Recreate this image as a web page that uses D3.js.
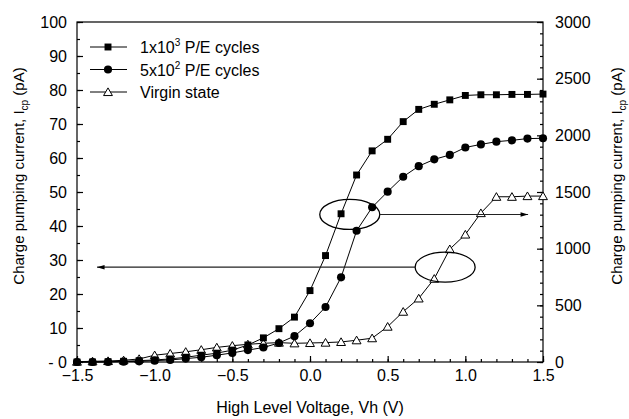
<!DOCTYPE html>
<html>
<head>
<meta charset="utf-8">
<script src="https://cdn.jsdelivr.net/npm/d3@7"></script>
<style>
  html, body { margin: 0; padding: 0; background: #fff; }
  svg { display: block; font-family: "Liberation Sans", Arial, sans-serif; }
  .axis path, .axis line { stroke: #000; stroke-width: 1.2; }
  .axis text { font-size: 16px; fill: #000; }
</style>
</head>
<body>
<svg id="chart" width="629" height="419"></svg>
<script>
// High level voltage sweep (V)
const vh = [-1.5, -1.4, -1.3, -1.2, -1.1, -1.0, -0.9, -0.8, -0.7, -0.6, -0.5,
  -0.4, -0.3, -0.2, -0.1, 0.0, 0.1, 0.2, 0.3, 0.4, 0.5,
  0.6, 0.7, 0.8, 0.9, 1.0, 1.1, 1.2, 1.3, 1.4, 1.5];

// Icp (pA) after 1x10^3 P/E cycles -- right axis
const cycles1e3 = [0, 0, 3, 6, 12, 18, 27, 42, 60, 78, 105,
  150, 213, 294, 396, 630, 939, 1308, 1650, 1863, 1965,
  2121, 2229, 2274, 2313, 2352, 2358, 2358, 2361, 2361, 2364];

// Icp (pA) after 5x10^2 P/E cycles -- right axis
const cycles5e2 = [0, 0, 0, 3, 6, 12, 18, 30, 42, 60, 80,
  105, 128, 168, 228, 342, 485, 747, 1158, 1365, 1503,
  1635, 1728, 1788, 1827, 1893, 1920, 1944, 1956, 1971, 1974];

// Icp (pA) virgin state -- left axis
const virgin = [0.1, 0.2, 0.3, 0.5, 0.9, 2.0, 2.5, 3.0, 3.6, 4.3, 4.8,
  5.2, 5.5, 5.7, 5.5, 5.6, 5.7, 5.9, 6.4, 7.0, 10.4,
  14.8, 18.7, 24.5, 33.2, 37.5, 43.8, 48.6, 48.6, 48.8, 48.8];

const xMajorTicks = [-1.5, -1.0, -0.5, 0.0, 0.5, 1.0, 1.5];
const leftTicks = [0, 10, 20, 30, 40, 50, 60, 70, 80, 90, 100];
const rightTicks = [0, 500, 1000, 1500, 2000, 2500, 3000];

// Annotation ellipses: [vh, left-axis value], arrow target vh
const ellipseCycled = [0.256, 43.4];
const arrowCycledTo = 1.404;
const ellipseVirgin = [0.870, 27.9];
const arrowVirginTo = -1.371;

(() => {
  const svg = d3.select('#chart');

  const x = d3.scaleLinear().domain([-1.5, 1.5]).range([77, 543]);
  const yL = d3.scaleLinear().domain([0, 100]).range([362, 22]);
  const yR = d3.scaleLinear().domain([0, 3000]).range([362, 22]);

  // Frame
  svg.append('rect')
    .attr('x', x(-1.5)).attr('y', yL(100))
    .attr('width', x(1.5) - x(-1.5)).attr('height', yL(0) - yL(100))
    .attr('fill', 'none').attr('stroke', '#000').attr('stroke-width', 1.2);

  // Minor ticks
  const minorX = d3.range(-15, 16).map(d => d / 10);
  svg.append('g').attr('class', 'axis')
    .attr('transform', `translate(0,${yL(0)})`)
    .call(d3.axisBottom(x).tickValues(minorX).tickSizeInner(-3).tickSizeOuter(0).tickFormat(''));
  svg.append('g').attr('class', 'axis')
    .attr('transform', `translate(${x(-1.5)},0)`)
    .call(d3.axisLeft(yL).tickValues(d3.range(0, 101, 5)).tickSizeInner(-3).tickSizeOuter(0).tickFormat(''));
  svg.append('g').attr('class', 'axis')
    .attr('transform', `translate(${x(1.5)},0)`)
    .call(d3.axisRight(yR).tickValues(d3.range(0, 3001, 100)).tickSizeInner(-3).tickSizeOuter(0).tickFormat(''));

  // Major ticks + labels
  svg.append('g').attr('class', 'axis')
    .attr('transform', `translate(0,${yL(0)})`)
    .call(d3.axisBottom(x).tickValues(xMajorTicks).tickSizeInner(-6).tickSizeOuter(0)
      .tickPadding(8).tickFormat(d3.format('.1f')));
  svg.append('g').attr('class', 'axis')
    .attr('transform', `translate(${x(-1.5)},0)`)
    .call(d3.axisLeft(yL).tickValues(leftTicks).tickSizeInner(-6).tickSizeOuter(0)
      .tickPadding(10).tickFormat(d => d === 0 ? '- 0' : d));
  svg.append('g').attr('class', 'axis')
    .attr('transform', `translate(${x(1.5)},0)`)
    .call(d3.axisRight(yR).tickValues(rightTicks).tickSizeInner(-6).tickSizeOuter(0)
      .tickPadding(12).tickFormat(d3.format('d')));
  svg.selectAll('.axis .domain').remove();

  // Axis titles
  svg.append('text')
    .attr('x', (x(-1.5) + x(1.5)) / 2).attr('y', 413)
    .attr('text-anchor', 'middle').attr('font-size', 16)
    .text('High Level Voltage, Vh (V)');

  function yTitle(cx, cy) {
    const t = svg.append('text')
      .attr('transform', `translate(${cx},${cy}) rotate(-90)`)
      .attr('text-anchor', 'middle').attr('font-size', 15);
    t.append('tspan').text('Charge pumping current, I');
    t.append('tspan').attr('font-size', 10).attr('dy', 4).text('cp');
    t.append('tspan').attr('dy', -4).text(' (pA)');
  }
  yTitle(24, 176);
  yTitle(622, 176);

  // Series
  const series = [
    { values: virgin, y: yL, shape: 'triangle' },
    { values: cycles5e2, y: yR, shape: 'circle' },
    { values: cycles1e3, y: yR, shape: 'square' }
  ];

  const symbols = {
    square: d3.symbol(d3.symbolSquare, 48),
    circle: d3.symbol(d3.symbolCircle, 52),
    triangle: d3.symbol(d3.symbolTriangle, 34)
  };

  function drawMarker(sel, shape) {
    sel.attr('d', symbols[shape]())
      .attr('fill', shape === 'triangle' ? '#fff' : '#000')
      .attr('stroke', '#000')
      .attr('stroke-width', shape === 'triangle' ? 1 : 0);
  }

  series.forEach(s => {
    const pts = vh.map((v, i) => [x(v), s.y(s.values[i])]);
    svg.append('path')
      .attr('d', d3.line()(pts))
      .attr('fill', 'none').attr('stroke', '#000').attr('stroke-width', 1);
    svg.append('g').selectAll('path')
      .data(pts)
      .join('path')
      .attr('transform', d => `translate(${d[0]},${d[1] + (s.shape === 'triangle' ? 1 : 0)})`)
      .call(drawMarker, s.shape);
  });

  // Annotations
  const defs = svg.append('defs');
  defs.append('marker')
    .attr('id', 'arr')
    .attr('viewBox', '0 -4 10 8')
    .attr('refX', 10).attr('refY', 0)
    .attr('markerWidth', 9).attr('markerHeight', 6)
    .attr('markerUnits', 'userSpaceOnUse')
    .attr('orient', 'auto')
    .append('path').attr('d', 'M0,-3L10,0L0,3Z').attr('fill', '#000');

  function callout(center, toX) {
    const cx = x(center[0]);
    const cy = yL(center[1]);
    const rx = 30, ry = 15;
    svg.append('ellipse')
      .attr('cx', cx).attr('cy', cy).attr('rx', rx).attr('ry', ry)
      .attr('fill', 'none').attr('stroke', '#000').attr('stroke-width', 1.3);
    const startX = toX > center[0] ? cx + rx : cx - rx;
    svg.append('line')
      .attr('x1', startX).attr('y1', cy).attr('x2', x(toX)).attr('y2', cy)
      .attr('stroke', '#222').attr('stroke-width', 1.1)
      .attr('marker-end', 'url(#arr)');
  }
  callout(ellipseCycled, arrowCycledTo);
  callout(ellipseVirgin, arrowVirginTo);

  // Legend
  const legend = [
    { shape: 'square', base: '1x10', sup: '3', rest: ' P/E cycles' },
    { shape: 'circle', base: '5x10', sup: '2', rest: ' P/E cycles' },
    { shape: 'triangle', base: 'Virgin state', sup: '', rest: '' }
  ];
  const lg = svg.append('g').selectAll('g')
    .data(legend)
    .join('g')
    .attr('transform', (d, i) => `translate(0,${47 + i * 22.5})`);
  lg.append('line')
    .attr('x1', 90).attr('x2', 127).attr('y1', 0).attr('y2', 0)
    .attr('stroke', '#000').attr('stroke-width', 1);
  lg.append('path')
    .attr('transform', d => `translate(108,${d.shape === 'triangle' ? 1 : 0})`)
    .each(function (d) { d3.select(this).call(drawMarker, d.shape); });
  const lt = lg.append('text')
    .attr('x', 140).attr('y', 6).attr('font-size', 16);
  lt.append('tspan').text(d => d.base);
  lt.append('tspan').attr('font-size', 10).attr('dy', -7).text(d => d.sup);
  lt.append('tspan').attr('dy', d => d.sup ? 7 : 0).text(d => d.rest);
})();
</script>
</body>
</html>
